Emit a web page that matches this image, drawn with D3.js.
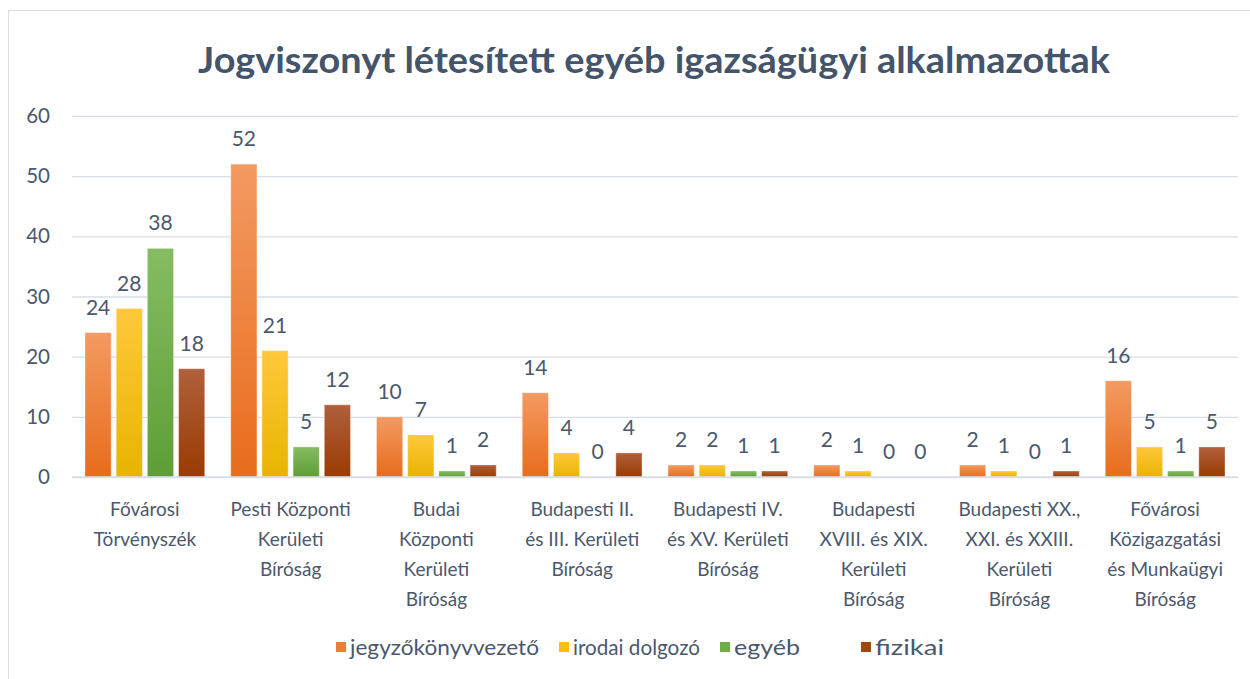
<!DOCTYPE html>
<html>
<head>
<meta charset="utf-8">
<script src="https://cdn.jsdelivr.net/npm/d3@7"></script>
<style>
  body { margin: 0; background: #fff; }
  svg text { font-family: Lato, "Open Sans", sans-serif; }
</style>
</head>
<body>
<svg id="chart" width="1250" height="679"></svg>
<script>
const title = "Jogviszonyt létesített egyéb igazságügyi alkalmazottak";

const categories = [
  ["Fővárosi", "Törvényszék"],
  ["Pesti Központi", "Kerületi", "Bíróság"],
  ["Budai", "Központi", "Kerületi", "Bíróság"],
  ["Budapesti II.", "és III. Kerületi", "Bíróság"],
  ["Budapesti IV.", "és XV. Kerületi", "Bíróság"],
  ["Budapesti", "XVIII. és XIX.", "Kerületi", "Bíróság"],
  ["Budapesti XX.,", "XXI. és XXIII.", "Kerületi", "Bíróság"],
  ["Fővárosi", "Közigazgatási", "és Munkaügyi", "Bíróság"]
];

const seriesNames = ["jegyzőkönyvvezető", "irodai dolgozó", "egyéb", "fizikai"];
const jegyzo = [24, 52, 10, 14, 2, 2, 2, 16];
const irodai = [28, 21, 7, 4, 2, 1, 1, 5];
const egyeb = [38, 5, 1, 0, 1, 0, 0, 1];
const fizikai = [18, 12, 2, 4, 1, 0, 1, 5];
const yTicks = [0, 10, 20, 30, 40, 50, 60];

const seriesValues = [jegyzo, irodai, egyeb, fizikai];
// top / bottom colour of each series gradient
const colors = [
  ["#F39A62", "#E86C1C"],
  ["#FFC83D", "#E8B400"],
  ["#86BC63", "#5E9E36"],
  ["#B0603C", "#9A3B02"]
];
const legendColors = ["#ED7D31", "#FFC000", "#70AD47", "#9E480E"];
const textColor = "#4B586C";

const svg = d3.select("#chart");
const margin = { top: 116, left: 72, right: 12, bottom: 202 };
const width = 1250 - margin.left - margin.right,
      height = 679 - margin.top - margin.bottom;

// frame
svg.append("rect")
  .attr("x", 8.5).attr("y", 10.5)
  .attr("width", 1250).attr("height", 700)
  .attr("fill", "#fff").attr("stroke", "#D9DDE3");

const defs = svg.append("defs");
colors.forEach(function (c, i) {
  const lg = defs.append("linearGradient")
    .attr("id", "grad" + i)
    .attr("x1", 0).attr("y1", 0).attr("x2", 0).attr("y2", 1);
  lg.append("stop").attr("offset", "0%").attr("stop-color", c[0]);
  lg.append("stop").attr("offset", "100%").attr("stop-color", c[1]);
});

// title
svg.append("text")
  .attr("x", 654).attr("y", 73)
  .attr("text-anchor", "middle")
  .attr("font-size", 36)
  .attr("font-weight", "bold")
  .attr("fill", "#44546A")
  .attr("textLength", 912)
  .attr("lengthAdjust", "spacingAndGlyphs")
  .text(title);

const g = svg.append("g").attr("transform", "translate(" + margin.left + "," + margin.top + ")");

const x = d3.scaleBand()
  .domain(d3.range(categories.length))
  .range([0, width]);

const x1 = d3.scaleBand()
  .domain(d3.range(seriesNames.length))
  .range([13, x.bandwidth() - 13])
  .paddingInner(0.16);

const y = d3.scaleLinear()
  .domain([0, 60])
  .range([height, 0]);

// gridlines + y labels
g.append("g")
  .call(d3.axisLeft(y).tickValues(yTicks).tickSize(-width).tickPadding(22))
  .call(function (ax) {
    ax.select(".domain").remove();
    ax.selectAll(".tick line").attr("stroke", "#D9DEE6").attr("stroke-width", 1.3);
    ax.selectAll(".tick text")
      .attr("fill", textColor)
      .attr("font-size", 20.5)
      .attr("font-family", "Lato, sans-serif");
  });

// bars
const groups = g.selectAll(".grp")
  .data(categories)
  .enter().append("g")
  .attr("class", "grp")
  .attr("transform", function (d, i) { return "translate(" + x(i) + ",0)"; });

groups.each(function (d, ci) {
  const grp = d3.select(this);
  seriesValues.forEach(function (vals, si) {
    const v = vals[ci];
    if (v > 0) {
      grp.append("rect")
        .attr("x", x1(si))
        .attr("y", y(v))
        .attr("width", x1.bandwidth())
        .attr("height", height - y(v))
        .attr("fill", "url(#grad" + si + ")")
        .attr("stroke", "rgba(255,255,255,0.35)")
        .attr("stroke-width", 1);
    }
    grp.append("text")
      .attr("x", x1(si) + x1.bandwidth() / 2)
      .attr("y", y(v) - 18)
      .attr("text-anchor", "middle")
      .attr("font-size", 21)
      .attr("fill", textColor)
      .text(v);
  });

  // category labels
  const lbl = grp.append("text")
    .attr("text-anchor", "middle")
    .attr("font-size", 19)
    .attr("fill", textColor);
  d.forEach(function (line, li) {
    lbl.append("tspan")
      .attr("x", x.bandwidth() / 2)
      .attr("y", height + 39 + li * 30)
      .text(line);
  });
});

// baseline
g.append("line")
  .attr("x1", 0).attr("x2", width)
  .attr("y1", height).attr("y2", height)
  .attr("stroke", "#D9DEE6").attr("stroke-width", 1.3);

// legend
const legend = svg.append("g").attr("transform", "translate(0,648)");
const legendStarts = [336, 559, 720, 861];
const legendWidths = [189, 127, 66, 69];
seriesNames.forEach(function (name, i) {
  legend.append("rect")
    .attr("x", legendStarts[i]).attr("y", -6)
    .attr("width", 10).attr("height", 10)
    .attr("fill", legendColors[i]);
  legend.append("text")
    .attr("x", legendStarts[i] + 14)
    .attr("y", 7)
    .attr("font-size", 22)
    .attr("fill", textColor)
    .attr("textLength", legendWidths[i])
    .attr("lengthAdjust", "spacingAndGlyphs")
    .text(name);
});
</script>
</body>
</html>
